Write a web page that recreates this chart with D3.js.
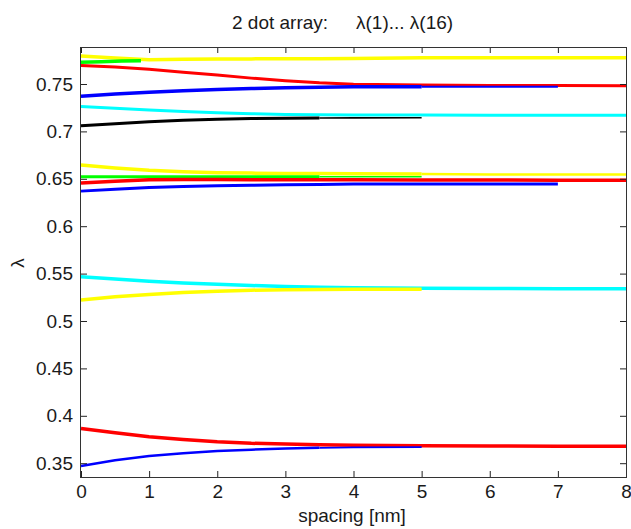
<!DOCTYPE html>
<html>
<head>
<meta charset="utf-8">
<script src="https://cdn.jsdelivr.net/npm/d3@7"></script>
<style>
  html, body { margin: 0; padding: 0; background: #fff; }
  svg { display: block; }
  text { font-family: "Liberation Sans", Arial, Helvetica, sans-serif; fill: #1a1a1a; }
</style>
</head>
<body>
<svg id="chart" width="631" height="529"></svg>
<script>
// ---------- data ----------
const spacing = [0, 0.5, 1, 1.5, 2, 2.5, 3, 3.5, 4, 5, 6, 7, 8];
const spacingShort = [0, 0.3, 0.6, 0.88];

const xTicks = [0, 1, 2, 3, 4, 5, 6, 7, 8];
const yTicks = [0.35, 0.4, 0.45, 0.5, 0.55, 0.6, 0.65, 0.7, 0.75];

// top band
const yellowTop = [0.7795, 0.7773, 0.7757, 0.7761, 0.7763, 0.7765, 0.7766, 0.7767, 0.7768, 0.7776, 0.7777, 0.7777, 0.7777];
const redTop    = [0.7695, 0.7680, 0.7655, 0.7625, 0.7595, 0.7562, 0.7535, 0.7512, 0.7498, 0.7490, 0.7485, 0.7483, 0.7481];
const greenTop  = [0.7729, 0.7735, 0.7742, 0.7746];
const blueTop   = [0.7372, 0.7395, 0.7413, 0.7428, 0.7442, 0.7452, 0.7460, 0.7466, 0.7470, 0.7472, 0.7472, 0.7472];
const cyanTop   = [0.7262, 0.7245, 0.7225, 0.7210, 0.7197, 0.7186, 0.7178, 0.7175, 0.7173, 0.7172, 0.7171, 0.7170, 0.7170];
const blackTop  = [0.7060, 0.7080, 0.7103, 0.7118, 0.7128, 0.7135, 0.7140, 0.7142, 0.7143, 0.7144];
// middle band
const yellowMid = [0.6645, 0.6615, 0.6590, 0.6575, 0.6565, 0.6560, 0.6557, 0.6555, 0.6553, 0.6550, 0.6546, 0.6545, 0.6545];
const greenMid  = [0.6522, 0.6522, 0.6522, 0.6522, 0.6522, 0.6522, 0.6521, 0.6521, 0.6521, 0.6521];
const redMid    = [0.6455, 0.6475, 0.6490, 0.6492, 0.6492, 0.6491, 0.6490, 0.6490, 0.6489, 0.6488, 0.6487, 0.6486, 0.6485];
const blueMid   = [0.6370, 0.6390, 0.6407, 0.6418, 0.6426, 0.6431, 0.6436, 0.6441, 0.6444, 0.6445, 0.6446, 0.6446];
// lower band
const cyanLow   = [0.5467, 0.5442, 0.5420, 0.5402, 0.5387, 0.5374, 0.5364, 0.5357, 0.5352, 0.5346, 0.5343, 0.5341, 0.5340];
const yellowLow = [0.5222, 0.5255, 0.5280, 0.5300, 0.5315, 0.5325, 0.5330, 0.5333, 0.5335, 0.5336];
// bottom band
const redBottom  = [0.3865, 0.3820, 0.3780, 0.3750, 0.3726, 0.3710, 0.3703, 0.3695, 0.3690, 0.3685, 0.3682, 0.3680, 0.3680];
const blueBottom = [0.3470, 0.3530, 0.3575, 0.3605, 0.3628, 0.3643, 0.3655, 0.3662, 0.3666, 0.3670];

// ---------- series (data refs) and styles ----------
const series = [
  { xs: spacing,      ys: yellowTop },
  { xs: spacing,      ys: redTop },
  { xs: spacingShort, ys: greenTop },
  { xs: spacing,      ys: blueTop },
  { xs: spacing,      ys: cyanTop },
  { xs: spacing,      ys: blackTop },
  { xs: spacing,      ys: yellowMid },
  { xs: spacing,      ys: greenMid },
  { xs: spacing,      ys: redMid },
  { xs: spacing,      ys: blueMid },
  { xs: spacing,      ys: cyanLow },
  { xs: spacing,      ys: yellowLow },
  { xs: spacing,      ys: redBottom },
  { xs: spacing,      ys: blueBottom }
];
// thinFrom: spacing from which the curve is drawn with thinWidth
const styles = [
  { color: "#ffff00", width: 3.5 },
  { color: "#ff0000", width: 3 },
  { color: "#00ff00", width: 3.5 },
  { color: "#0000ff", width: 3.5, thinFrom: 5, thinWidth: 2 },
  { color: "#00ffff", width: 3 },
  { color: "#000000", width: 3, thinFrom: 3.5, thinWidth: 1.6 },
  { color: "#ffff00", width: 3.5, thinFrom: 5, thinWidth: 2.5 },
  { color: "#00ff00", width: 3, thinFrom: 3.5, thinWidth: 1.6 },
  { color: "#ff0000", width: 3.5 },
  { color: "#0000ff", width: 3 },
  { color: "#00ffff", width: 3.5 },
  { color: "#ffff00", width: 3.5 },
  { color: "#ff0000", width: 3.5 },
  { color: "#0000ff", width: 2.5, thinFrom: 3.5, thinWidth: 1.8 }
];

// ---------- layout ----------
const L = 81, R = 626, T = 47, B = 477;
const svg = d3.select("#chart");

const x = d3.scaleLinear().domain([0, 8]).range([L, R]);
const y = d3.scaleLinear().domain([0.33544, 0.78903]).range([B, T]);

// lines
const line = d3.line().x(d => x(d[0])).y(d => y(d[1]));
const lines = svg.append("g").attr("class", "lines");
function drawPath(pts, color, w) {
  if (pts.length < 2) return;
  lines.append("path")
    .attr("d", line(pts))
    .attr("fill", "none")
    .attr("stroke", color)
    .attr("stroke-width", w)
    .attr("stroke-linejoin", "round");
}
series.forEach((s, i) => {
  const st = styles[i];
  const pts = s.ys.map((v, k) => [s.xs[k], v]);
  if (st.thinFrom === undefined) {
    drawPath(pts, st.color, st.width);
  } else {
    drawPath(pts.filter(p => p[0] >= st.thinFrom), st.color, st.thinWidth);
    drawPath(pts.filter(p => p[0] <= st.thinFrom), st.color, st.width);
  }
});

// axes (MATLAB-like box with inward ticks)
const fs = 19;
const tickLen = 6;
const fmt = d => String(+d.toFixed(2));

const gL = svg.append("g").attr("transform", `translate(${L},0)`)
  .call(d3.axisLeft(y).tickValues(yTicks).tickFormat(fmt).tickSizeInner(-tickLen).tickSizeOuter(0).tickPadding(8));
const gR = svg.append("g").attr("transform", `translate(${R},0)`)
  .call(d3.axisRight(y).tickValues(yTicks).tickFormat("").tickSizeInner(-tickLen).tickSizeOuter(0));
const gB = svg.append("g").attr("transform", `translate(0,${B})`)
  .call(d3.axisBottom(x).tickValues(xTicks).tickFormat(d3.format("d")).tickSizeInner(-tickLen).tickSizeOuter(0).tickPadding(8));
const gT = svg.append("g").attr("transform", `translate(0,${T})`)
  .call(d3.axisTop(x).tickValues(xTicks).tickFormat("").tickSizeInner(-tickLen).tickSizeOuter(0));

[gL, gR, gB, gT].forEach(g => {
  g.select(".domain").remove();
  g.selectAll(".tick line").attr("stroke", "#222").attr("stroke-width", 1);
  g.selectAll("text").attr("font-size", fs).attr("fill", "#1a1a1a")
    .style("font-family", '"Liberation Sans", Arial, sans-serif');
});

svg.append("rect")
  .attr("x", L - 0.5).attr("y", T + 0.5)
  .attr("width", R - L + 1).attr("height", B - T)
  .attr("fill", "none").attr("stroke", "#333").attr("stroke-width", 1);

// title
const title = svg.append("text").attr("y", 28.5).attr("font-size", fs);
title.append("tspan").attr("x", 232).text("2 dot array:");
title.append("tspan").attr("x", 356).text("\u03bb(1)... \u03bb(16)");

// axis labels
svg.append("text").attr("x", 352).attr("y", 522).attr("text-anchor", "middle")
  .attr("font-size", fs).text("spacing [nm]");
svg.append("text").attr("transform", "translate(24,263) rotate(-90)")
  .attr("text-anchor", "middle").attr("font-size", fs).text("\u03bb");
</script>
</body>
</html>
